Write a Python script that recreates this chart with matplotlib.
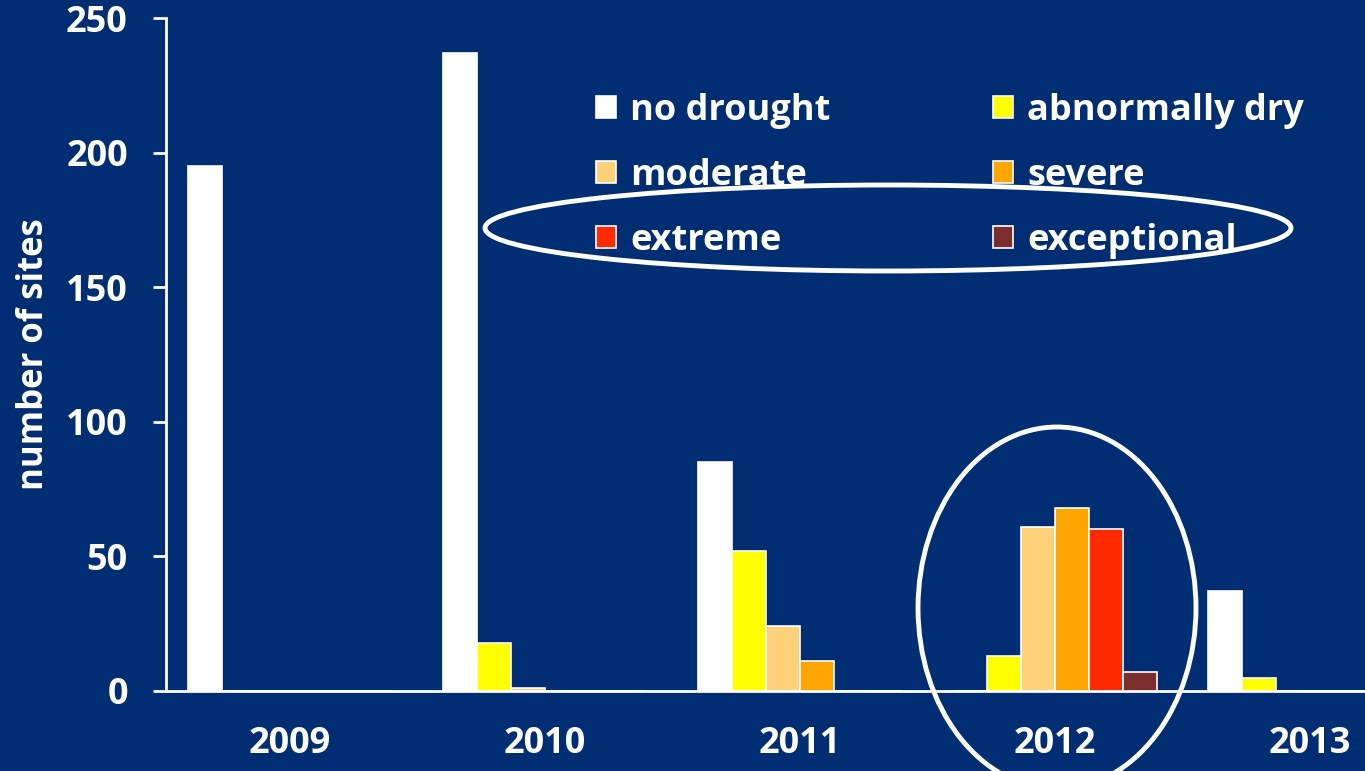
import matplotlib
matplotlib.use("Agg")
import matplotlib.pyplot as plt
from matplotlib.patches import Ellipse, Patch
import numpy as np

years = ["2009", "2010", "2011", "2012", "2013"]
categories = ["no drought", "abnormally dry", "moderate", "severe", "extreme", "exceptional"]
no_drought = [195, 237, 85, 0, 37]
abnormally_dry = [0, 18, 52, 13, 5]
moderate = [0, 1, 24, 61, 0]
severe = [0, 0, 11, 68, 0]
extreme = [0, 0, 0, 60, 0]
exceptional = [0, 0, 0, 7, 0]
series = [no_drought, abnormally_dry, moderate, severe, extreme, exceptional]
colors = ["#FFFFFF", "#FFFF00", "#FFD07A", "#FFA500", "#FF2A00", "#7A2E2E"]
yticks = [0, 50, 100, 150, 200, 250]

BG = "#012D72"
FONT = "Open Sans"

fig = plt.figure(figsize=(13.65, 7.71), dpi=100, facecolor=BG)
ax = fig.add_axes([166/1365, 80/771, (1365-166)/1365, 673/771])
ax.set_facecolor(BG)

x = np.arange(len(years))
w = 34/255
for j, (vals, c) in enumerate(zip(series, colors)):
    ax.bar(x + (j - 2.5) * w, vals, width=w, color=c, edgecolor="white",
           linewidth=1.2, label=categories[j], zorder=3)

ax.set_xlim(-0.486, 4.216)
ax.set_ylim(0, 250)
ax.set_yticks(yticks)
ax.set_yticklabels([str(t) for t in yticks], fontsize=26, fontweight="bold",
                   family=FONT, color="white")
ax.set_xticks(x)
ax.set_xticklabels(years, fontsize=26, fontweight="bold", family=FONT, color="white")
ax.tick_params(axis="x", length=0, pad=25)
ax.tick_params(axis="y", length=9.5, width=2, color="white", pad=18, direction="out")
for s in ["top", "right"]:
    ax.spines[s].set_visible(False)
for s in ["left", "bottom"]:
    ax.spines[s].set_color("white")
    ax.spines[s].set_linewidth(2)
ax.set_ylabel("number of sites", fontsize=25, fontweight="bold", family=FONT,
              color="white", labelpad=10)

# legend (column-major order for 2 columns)
order = [0, 2, 4, 1, 3, 5]
handles = [Patch(facecolor=colors[i], edgecolor="white", linewidth=1.2) for i in order]
labels = [categories[i] for i in order]
leg = fig.legend(handles, labels, ncol=2, loc="upper left",
                 bbox_to_anchor=(596/1365, 1 - 93/771), frameon=False,
                 prop={"family": FONT, "weight": "bold", "size": 26},
                 handlelength=0.55, handleheight=0.55, handletextpad=0.4,
                 columnspacing=4.5, labelspacing=0.8, borderpad=0, borderaxespad=0)
for t in leg.get_texts():
    t.set_color("white")

# overlay ellipses
ov = fig.add_axes([0, 0, 1, 1], facecolor="none")
ov.set_xlim(0, 1365)
ov.set_ylim(771, 0)
ov.axis("off")
ov.add_patch(Ellipse((888, 228), 806, 86, fill=False, edgecolor="white", linewidth=3.5))
ov.add_patch(Ellipse((1057, 608), 278, 362, fill=False, edgecolor="white", linewidth=3.5))

fig.savefig("out.png", dpi=100, facecolor=BG)
